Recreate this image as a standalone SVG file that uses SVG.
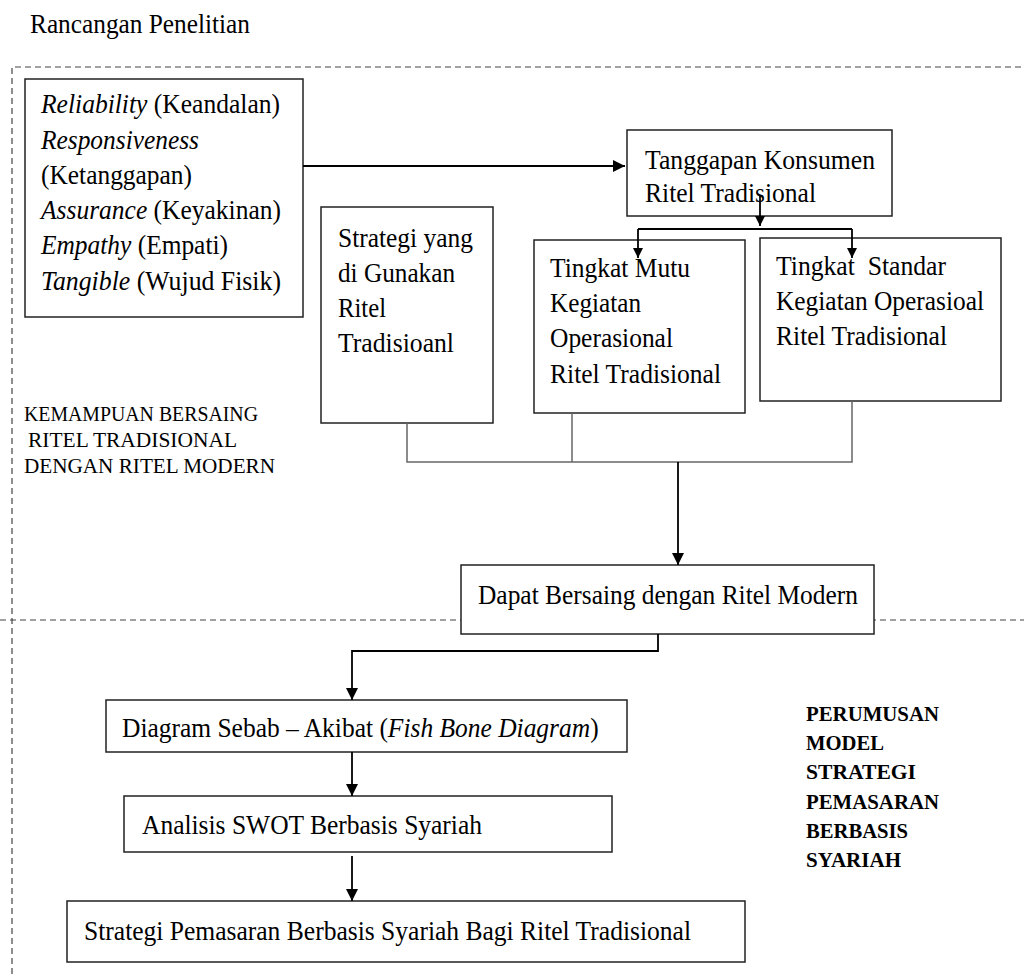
<svg xmlns="http://www.w3.org/2000/svg" width="1024" height="974" viewBox="0 0 1024 974" font-family="'Liberation Serif', 'Times New Roman', serif">
<defs>
<marker id="ah" viewBox="0 0 10 10" refX="10" refY="5" markerWidth="10" markerHeight="10" markerUnits="userSpaceOnUse" orient="auto"><path d="M0,0 L10,5 L0,10 z" fill="#000"/></marker>
<marker id="ahb" viewBox="0 0 10 10" refX="10" refY="5" markerWidth="12" markerHeight="12" markerUnits="userSpaceOnUse" orient="auto"><path d="M0,0 L10,5 L0,10 z" fill="#000"/></marker>
</defs>
<style>
.box{fill:#fff;stroke:#222;stroke-width:1.5}
text{font-family:'Liberation Serif','Times New Roman',serif}
.t{font-size:28px;fill:#000}
.cap{font-size:21px;fill:#000}
.bold{font-size:20px;font-weight:bold;fill:#000}
.dash{fill:none;stroke:#444;stroke-width:1.2;stroke-dasharray:6,4}
.ln{fill:none;stroke:#000;stroke-width:1.8}
.gl{fill:none;stroke:#666;stroke-width:1.5}
</style>
<rect width="1024" height="974" fill="#fff"/>
<text class="t" x="30" y="33" font-size="26" textLength="220" lengthAdjust="spacingAndGlyphs">Rancangan Penelitian</text>

<g id="frame">
<path class="dash" d="M12,974 V67 H1024"/>
<path class="dash" d="M0,620 H1024" stroke="#888"/>
</g>

<g id="servqual">
<rect class="box" x="25" y="79" width="278" height="238"/>
<text class="t" x="41" y="113" textLength="239" lengthAdjust="spacingAndGlyphs"><tspan font-style="italic">Reliability</tspan> (Keandalan)</text>
<text class="t" x="41" y="149" font-style="italic" textLength="158" lengthAdjust="spacingAndGlyphs">Responsiveness</text>
<text class="t" x="41" y="184" textLength="151" lengthAdjust="spacingAndGlyphs">(Ketanggapan)</text>
<text class="t" x="41" y="219" textLength="240" lengthAdjust="spacingAndGlyphs"><tspan font-style="italic">Assurance</tspan> (Keyakinan)</text>
<text class="t" x="41" y="254" textLength="187" lengthAdjust="spacingAndGlyphs"><tspan font-style="italic">Empathy</tspan> (Empati)</text>
<text class="t" x="41" y="290" textLength="240" lengthAdjust="spacingAndGlyphs"><tspan font-style="italic">Tangible</tspan> (Wujud Fisik)</text>
</g>

<g id="tanggapan">
<rect class="box" x="627" y="130" width="265" height="86"/>
<text class="t" x="645" y="169" textLength="230" lengthAdjust="spacingAndGlyphs">Tanggapan Konsumen</text>
<text class="t" x="645" y="202" textLength="171" lengthAdjust="spacingAndGlyphs">Ritel Tradisional</text>
</g>

<g id="strategi">
<rect class="box" x="321" y="207" width="172" height="216"/>
<text class="t" x="338" y="247" textLength="135" lengthAdjust="spacingAndGlyphs">Strategi yang</text>
<text class="t" x="338" y="282" textLength="117" lengthAdjust="spacingAndGlyphs">di Gunakan</text>
<text class="t" x="338" y="317" textLength="48" lengthAdjust="spacingAndGlyphs">Ritel</text>
<text class="t" x="338" y="352" textLength="116" lengthAdjust="spacingAndGlyphs">Tradisioanl</text>
</g>

<g id="mutu">
<rect class="box" x="534" y="240" width="211" height="173"/>
<text class="t" x="550" y="277" textLength="140" lengthAdjust="spacingAndGlyphs">Tingkat Mutu</text>
<text class="t" x="550" y="312" textLength="91" lengthAdjust="spacingAndGlyphs">Kegiatan</text>
<text class="t" x="550" y="347" textLength="123" lengthAdjust="spacingAndGlyphs">Operasional</text>
<text class="t" x="550" y="383" textLength="171" lengthAdjust="spacingAndGlyphs">Ritel Tradisional</text>
</g>

<g id="standar">
<rect class="box" x="760" y="238" width="241" height="163"/>
<text class="t" x="776" y="275" textLength="170" lengthAdjust="spacingAndGlyphs" xml:space="preserve">Tingkat  Standar</text>
<text class="t" x="776" y="310" textLength="208" lengthAdjust="spacingAndGlyphs">Kegiatan Operasioal</text>
<text class="t" x="776" y="345" textLength="171" lengthAdjust="spacingAndGlyphs">Ritel Tradisional</text>
</g>

<g id="kemampuan">
<text class="cap" x="24" y="421" textLength="234" lengthAdjust="spacingAndGlyphs">KEMAMPUAN BERSAING</text>
<text class="cap" x="28" y="447" textLength="209" lengthAdjust="spacingAndGlyphs">RITEL TRADISIONAL</text>
<text class="cap" x="24" y="473" textLength="251" lengthAdjust="spacingAndGlyphs">DENGAN RITEL MODERN</text>
</g>

<g id="dapat">
<rect class="box" x="461" y="565" width="413" height="69"/>
<text class="t" x="478" y="604" textLength="380" lengthAdjust="spacingAndGlyphs">Dapat Bersaing dengan Ritel Modern</text>
</g>

<g id="fishbone">
<rect class="box" x="106" y="700" width="521" height="52"/>
<text class="t" transform="translate(122,737) scale(0.91,1)" x="0" y="0">Diagram Sebab – Akibat (<tspan font-style="italic">Fish Bone Diagram</tspan>)</text>
</g>

<g id="swot">
<rect class="box" x="124" y="796" width="488" height="56"/>
<text class="t" x="142" y="834" textLength="340" lengthAdjust="spacingAndGlyphs">Analisis SWOT Berbasis Syariah</text>
</g>

<g id="pemasaran">
<rect class="box" x="67" y="901" width="678" height="61"/>
<text class="t" x="84" y="940" textLength="607" lengthAdjust="spacingAndGlyphs">Strategi Pemasaran Berbasis Syariah Bagi Ritel Tradisional</text>
</g>

<g id="perumusan">
<text class="bold" x="806" y="721" textLength="133" lengthAdjust="spacingAndGlyphs">PERUMUSAN</text>
<text class="bold" x="806" y="750" textLength="78" lengthAdjust="spacingAndGlyphs">MODEL</text>
<text class="bold" x="806" y="779" textLength="110" lengthAdjust="spacingAndGlyphs">STRATEGI</text>
<text class="bold" x="806" y="809" textLength="133" lengthAdjust="spacingAndGlyphs">PEMASARAN</text>
<text class="bold" x="806" y="838" textLength="102" lengthAdjust="spacingAndGlyphs">BERBASIS</text>
<text class="bold" x="806" y="867" textLength="95" lengthAdjust="spacingAndGlyphs">SYARIAH</text>
</g>

<g id="connectors">
<path class="ln" d="M303,166 H625" marker-end="url(#ahb)"/>
<path class="ln" d="M760,196 V226" marker-end="url(#ah)"/>
<path class="ln" d="M638,229 H852"/>
<path class="ln" d="M638,229 V258" marker-end="url(#ah)"/>
<path class="ln" d="M852,229 V258" marker-end="url(#ah)"/>
<path class="gl" d="M407,423 V462 H852 V401"/>
<path class="gl" d="M572,413 V462"/>
<path class="ln" d="M678,462 V565" marker-end="url(#ahb)"/>
<path class="ln" d="M658,634 V651 H352 V700" marker-end="url(#ahb)"/>
<path class="ln" d="M352,752 V796" marker-end="url(#ahb)"/>
<path class="ln" d="M352,856 V901" marker-end="url(#ahb)"/>
</g>
</svg>
